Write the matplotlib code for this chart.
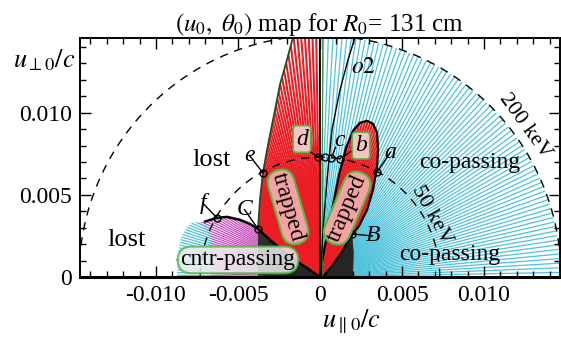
import matplotlib
matplotlib.use('Agg')
import matplotlib.pyplot as plt
import numpy as np
from matplotlib.collections import LineCollection
from matplotlib.patches import Polygon
from matplotlib.ticker import MultipleLocator, FixedLocator, FixedFormatter

plt.rcParams['font.family'] = ['Liberation Serif', 'DejaVu Serif']
plt.rcParams['mathtext.fontset'] = 'stix'
plt.rcParams['font.size'] = 16

# energy circles (deuteron, u/c)
r_200kev = 0.0147
r_50kev = 0.0073

# pitch-angle grids of launched orbits (deg from +u_par)
ray_deg_fine = np.arange(0.0, 180.01, 0.9)
ray_deg = np.arange(0.0, 180.01, 1.1)

# region boundaries (u_par/c, u_perp/c)
lobe_right = [(0.00006, 0), (0.00012, 0.00091), (0.00037, 0.00226), (0.00073, 0.00409),
              (0.00116, 0.00622), (0.00159, 0.00787), (0.00201, 0.00890), (0.00244, 0.00939),
              (0.00287, 0.00951), (0.00323, 0.00933), (0.00348, 0.00878), (0.00354, 0.00774),
              (0.00348, 0.00671), (0.00323, 0.00530), (0.00287, 0.00409), (0.00238, 0.00311),
              (0.00183, 0.00238), (0.00134, 0.00152), (0.00073, 0.00067), (0.00018, 0)]
black_right = [(0, 0), (0.00200, 0), (0.00205, 0.00150), (0.00195, 0.00270), (0.00100, 0.00120)]
red_left = [(0, 0), (0, 0.0150), (-0.00165, 0.01457), (-0.00201, 0.01323), (-0.00244, 0.01171),
            (-0.00280, 0.00988), (-0.00317, 0.00805), (-0.00348, 0.00634), (-0.00366, 0.00470),
            (-0.00378, 0.00293), (-0.00305, 0.00226), (-0.00183, 0.00122), (-0.00079, 0.00055)]
black_left = [(-0.00378, 0), (-0.00378, 0.00293), (-0.00305, 0.00226), (-0.00183, 0.00122),
              (-0.00079, 0.00055), (0, 0)]
magenta_left = [(-0.00671, 0), (-0.00665, 0.00165), (-0.00677, 0.00256), (-0.00713, 0.00311),
                (-0.00750, 0.00329), (-0.00689, 0.00341), (-0.00628, 0.00360), (-0.00567, 0.00366),
                (-0.00488, 0.00348), (-0.00427, 0.00323), (-0.00378, 0.00293), (-0.00378, 0)]
cyan_left = [(-0.00872, 0), (-0.00866, 0.00134), (-0.00848, 0.00238), (-0.00817, 0.00299),
             (-0.00780, 0.00329), (-0.00732, 0.00335), (-0.00689, 0.00317), (-0.00665, 0.00256),
             (-0.00665, 0)]
envelope = [(-0.00700, 0.00338), (-0.00628, 0.00360), (-0.00567, 0.00366), (-0.00488, 0.00348),
            (-0.00427, 0.00323), (-0.00378, 0.00293), (-0.00305, 0.00226), (-0.00183, 0.00122),
            (-0.00079, 0.00055), (0, 0)]
o2_curve = [(0.00003, 0), (0.00018, 0.00287), (0.00043, 0.00591), (0.00073, 0.00896),
            (0.00122, 0.01140), (0.00171, 0.01323), (0.00213, 0.01457)]

# marked orbits
pts = {'a': (0.00348, 0.00640), 'e': (-0.00348, 0.00634), 'f': (-0.00628, 0.00360),
       'C': (-0.00378, 0.00293), 'B': (0.00195, 0.00262)}
lbl = {'a': (0.00430, 0.00760), 'e': (-0.00430, 0.00740), 'f': (-0.00715, 0.00450),
       'C': (-0.00460, 0.00410), 'B': (0.00320, 0.00250)}
top_pts_x = [-0.0001, 0.0003, 0.0007, 0.0012]

fig = plt.figure(figsize=(5.61, 3.40), dpi=100)
ax = fig.add_axes([80 / 561, 63 / 340, 480 / 561, 239 / 340])
ax.set_xlim(-0.01463, 0.01463)
ax.set_ylim(0, 0.01455)


def rays(deg):
    t = np.radians(deg)
    return [[(0, 0), (r_200kev * np.cos(a), r_200kev * np.sin(a))] for a in t]


def region(verts, color, lw, z, deg):
    poly = Polygon(verts, closed=True, facecolor='white', edgecolor='none', zorder=z)
    ax.add_patch(poly)
    lc = LineCollection(rays(deg), colors=color, linewidths=lw, zorder=z + 0.1)
    ax.add_collection(lc)
    lc.set_clip_path(poly)


# co-passing quarter disk
qd = np.radians(np.linspace(0, 90, 60))
quarter = [(0, 0)] + [(r_200kev * np.cos(t), r_200kev * np.sin(t)) for t in qd]
region(quarter, '#4fc2dc', 0.9, 1, ray_deg)
region(black_right, '#262626', 1.0, 2, ray_deg_fine)
region(lobe_right, '#ec1c24', 1.5, 3, ray_deg_fine)
region(red_left, '#ec1c24', 1.5, 3, ray_deg_fine)
region(black_left, '#262626', 1.0, 2, ray_deg_fine)
region(magenta_left, '#c84cbc', 0.9, 2, ray_deg)
region(cyan_left, '#4fc2dc', 0.9, 2, ray_deg)

# boundaries
lx, ly = zip(*(lobe_right + [lobe_right[0]]))
ax.plot(lx, ly, color='black', lw=1.6, zorder=5)
rx, ry = zip(*red_left[2:10])
ax.plot(rx, ry, color='#1e4d1e', lw=1.3, zorder=5)
ax.plot([0, 0], [0, 0.0150], color='black', lw=1.3, zorder=5)
ax.plot([0.0001, 0.0001], [0, 0.0150], color='#2e8b2e', lw=0.6, zorder=5)
ex, ey = zip(*envelope)
ax.plot(ex, ey, color='black', lw=1.8, zorder=5)
ox, oy = zip(*o2_curve)
ax.plot(ox, oy, color='black', lw=1.0, zorder=5)

# energy circles
cc = np.radians(np.linspace(0, 180, 400))
ax.plot(r_200kev * np.cos(cc), r_200kev * np.sin(cc), color='black', lw=1.0,
        dashes=(6, 5), zorder=6)
ax.plot(r_50kev * np.cos(cc), r_50kev * np.sin(cc), color='black', lw=1.0,
        dashes=(6, 5), zorder=6)

# text labels
ax.text(-0.00659, 0.00713, 'lost', ha='center', va='center', fontsize=19, zorder=8)
ax.text(-0.01177, 0.00226, 'lost', ha='center', va='center', fontsize=19, zorder=8)
ax.text(0.00915, 0.00700, 'co-passing', ha='center', va='center', fontsize=17, zorder=8)
ax.text(0.00793, 0.00134, 'co-passing', ha='center', va='center', fontsize=17, zorder=8)
ax.text(-0.00500, 0.00104, 'cntr-passing', ha='center', va='center', fontsize=17, zorder=8,
        bbox=dict(boxstyle='round,pad=0.12,rounding_size=0.6', fc='#ededed', ec='#58b848',
                  lw=1.5, alpha=0.85))
ax.text(-0.00195, 0.00427, 'trapped', ha='center', va='center', fontsize=17, rotation=-74,
        zorder=8, bbox=dict(boxstyle='round,pad=0.12,rounding_size=0.6', fc='#f4a3a3',
                            ec='#58b848', lw=1.5))
ax.text(0.00165, 0.00420, 'trapped', ha='center', va='center', fontsize=17, rotation=67,
        zorder=8, bbox=dict(boxstyle='round,pad=0.12,rounding_size=0.6', fc='#f4a3a3',
                            ec='#58b848', lw=1.5))
ax.text(-0.00110, 0.00840, 'd', ha='center', va='center', fontsize=17, style='italic', zorder=8,
        bbox=dict(boxstyle='round,pad=0.12,rounding_size=0.15', fc='#f7c4c4', ec='#58b848', lw=1.2))
ax.text(0.00250, 0.00800, 'b', ha='center', va='center', fontsize=17, style='italic', zorder=8,
        bbox=dict(boxstyle='round,pad=0.12,rounding_size=0.15', fc='#f7c4c4', ec='#58b848', lw=1.2))
ax.text(0.00116, 0.00830, 'c', ha='center', va='center', fontsize=17, style='italic', zorder=8)
ax.text(0.00262, 0.01274, '$o2$', ha='center', va='center', fontsize=17, zorder=8)
ax.text(0.01250, 0.00920, '200 keV', ha='center', va='center', fontsize=16, rotation=-54, zorder=8)
ax.text(0.00683, 0.00378, '50 keV', ha='center', va='center', fontsize=16, rotation=-61, zorder=8)

# marked points with leaders
for k, (px, py) in pts.items():
    tx, ty = lbl[k]
    ax.plot([px, tx], [py, ty], color='black', lw=1.0, zorder=7)
    ax.plot(px, py, 'o', ms=5, mfc='none', mec='black', mew=1.0, zorder=7)
    ax.text(tx, ty, k, ha='center', va='center', fontsize=17, style='italic', zorder=8)
for x in top_pts_x:
    y = np.sqrt(r_50kev ** 2 - x ** 2)
    ax.plot(x, y, 'o', ms=5, mfc='none', mec='black', mew=1.0, zorder=7)
ax.plot([-0.00070, -0.0001], [0.00770, np.sqrt(r_50kev ** 2 - 0.0001 ** 2)], color='black', lw=1.0, zorder=7)
ax.plot([0.00095, 0.0007], [0.00790, np.sqrt(r_50kev ** 2 - 0.0007 ** 2)], color='black', lw=1.0, zorder=7)
ax.plot([0.00200, 0.0012], [0.00770, np.sqrt(r_50kev ** 2 - 0.0012 ** 2)], color='black', lw=1.0, zorder=7)

# axes styling
ax.xaxis.set_major_locator(FixedLocator([-0.010, -0.005, 0, 0.005, 0.010]))
ax.xaxis.set_major_formatter(FixedFormatter(['-0.010', '-0.005', '0', '0.005', '0.010']))
ax.yaxis.set_major_locator(FixedLocator([0, 0.005, 0.010]))
ax.yaxis.set_major_formatter(FixedFormatter(['0', '0.005', '0.010']))
ax.xaxis.set_minor_locator(MultipleLocator(0.001))
ax.yaxis.set_minor_locator(MultipleLocator(0.001))
ax.tick_params(which='both', direction='in', top=True, right=True, labelsize=17, width=1.0)
ax.tick_params(which='major', length=8, pad=6)
ax.tick_params(which='minor', length=4)
for s in ax.spines.values():
    s.set_linewidth(1.4)
    s.set_zorder(10)
ax.spines['bottom'].set_linewidth(2.2)

ax.set_title(r'$(u_0,\ \theta_0)$ map for $R_0$= 131 cm', fontsize=18, pad=5)
fig.text(44 / 561, 1 - 60 / 340, r'$u_{\perp 0}/c$', ha='center', va='center', fontsize=19)
fig.text(352 / 561, 1 - 322 / 340, r'$u_{\parallel 0}/c$', ha='center', va='center', fontsize=19)

fig.savefig('out.png', dpi=100)
